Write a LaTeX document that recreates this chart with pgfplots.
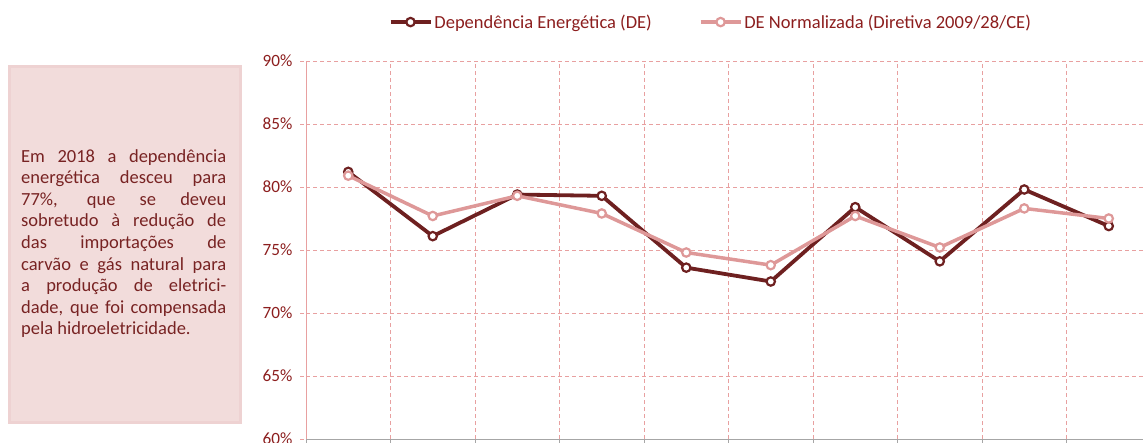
\documentclass[border=0pt]{standalone}
\usepackage{fontspec}
\setmainfont{Carlito}
\usepackage{pgfplots}
\pgfplotsset{compat=1.18}

\definecolor{darkline}{RGB}{110,32,32}
\definecolor{lightline}{RGB}{222,152,152}
\definecolor{gridpink}{RGB}{232,160,160}
\definecolor{labelred}{RGB}{140,30,30}
\definecolor{boxfill}{RGB}{242,220,219}
\definecolor{boxedge}{RGB}{238,210,210}
\definecolor{boxtext}{RGB}{120,35,35}

\begin{document}
\begin{tikzpicture}[x=1pt,y=1pt]
\useasboundingbox (0,0) rectangle (1143,442);

% text box on the left
\fill[boxfill, draw=boxedge, line width=3pt] (9,20) rectangle (240,375);
\node[anchor=north west, inner sep=0pt, text width=205pt, align=justify,
      text=boxtext, font=\fontsize{18.5}{21.6}\selectfont] at (21,293) {%
Em 2018 a dependência\linebreak
energética desceu para\linebreak
77\%, que se deveu\linebreak
sobretudo à redução de\linebreak
das importações de\linebreak
carvão e gás natural para\linebreak
a produção de eletrici-\linebreak
dade, que foi compensada\linebreak
pela hidroeletricidade.};

\begin{axis}[
  at={(306pt,3pt)}, anchor=south west,
  scale only axis,
  width=845pt, height=378pt,
  % x axis
  xmin=0.5, xmax=10.5,
  xtick={0.5,1.5,...,10.5},
  xticklabels={},
  axis x line*=bottom,
  x axis line style={color=gray!70, line width=1pt},
  % y axis
  ymin=60, ymax=90,
  ytick={60,65,...,90},
  yticklabel={\pgfmathprintnumber{\tick}\%},
  yticklabel style={xshift=-4pt},
  axis y line*=left,
  y axis line style={color=gridpink, line width=1pt},
  tick align=outside,
  major tick length=6pt,
  x tick style={color=gray!70},
  y tick style={color=gridpink, dash pattern=on 4pt off 3pt},
  tick label style={font=\fontsize{17.2}{17.2}\selectfont, text=labelred},
  /pgf/number format/assume math mode=true,
  % grid
  xmajorgrids, ymajorgrids,
  grid style={color=gridpink, line width=0.8pt, dash pattern=on 4pt off 3pt},
  % legend
  legend columns=2,
  legend style={at={(0.479,1.103)}, anchor=center, draw=none, fill=none,
    font=\fontsize{18.5}{18.5}\selectfont, text=labelred,
    /tikz/every even column/.append style={column sep=45pt}},
  legend image code/.code={\draw[mark repeat=2,mark phase=2,#1]
    plot coordinates {(0pt,0pt)(20pt,0pt)(40pt,0pt)};},
  ]

  % Dependencia Energetica (DE), 2009-2018
  \addplot[color=darkline, line width=3.8pt, mark=*, mark size=4.2pt,
    mark options={fill=white, line width=2.2pt}] coordinates {
    (1, 81.2)
    (2, 76.1)
    (3, 79.4)
    (4, 79.3)
    (5, 73.6)
    (6, 72.5)
    (7, 78.4)
    (8, 74.1)
    (9, 79.8)
    (10, 76.9)
  };
  % DE Normalizada
  \addplot[color=lightline, line width=3.5pt, mark=*, mark size=4.2pt,
    mark options={fill=white, line width=2.2pt}] coordinates {
    (1, 80.9)
    (2, 77.7)
    (3, 79.3)
    (4, 77.9)
    (5, 74.8)
    (6, 73.8)
    (7, 77.7)
    (8, 75.2)
    (9, 78.3)
    (10, 77.5)
  };

  \legend{Dependência Energética (DE), DE Normalizada (Diretiva 2009/28/CE)}
\end{axis}
\end{tikzpicture}
\end{document}
